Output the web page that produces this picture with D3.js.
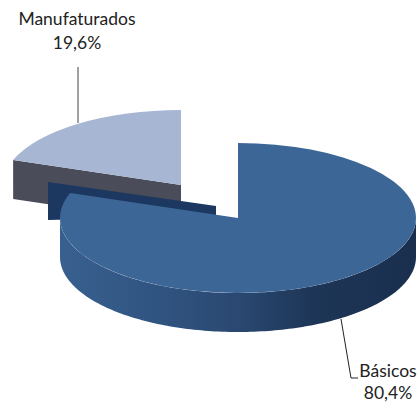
<!DOCTYPE html>
<html><head><meta charset="utf-8">
<style>html,body{margin:0;padding:0;background:#fff}svg{display:block}text{font-family:Lato,"Open Sans",sans-serif;font-size:17.5px;fill:#222}</style>
<script src="https://cdn.jsdelivr.net/npm/d3@7/dist/d3.min.js"></script>
</head><body><svg width="420" height="404"></svg>
<script>
const categories=["Básicos","Manufaturados"];
const values=[80.4,19.6];
const valueLabels=["80,4%","19,6%"];
const topColors=["#3c6696","#a6b6d3"];
const svg=d3.select("svg");
const rx=178,ry=75,depth=39;
const centers=[[238,218],[181,185]];
const arcs=d3.pie().sort(null).value(d=>d)(values);
const arcGen=d3.arc().innerRadius(0).outerRadius(rx);
const yr=ry/rx;
const P=(c,a,dy=0)=>[c[0]+rx*Math.sin(a),c[1]-ry*Math.cos(a)+dy];
const line=d3.line();
const defs=svg.append("defs");
const g=defs.append("linearGradient").attr("id","side").attr("gradientUnits","userSpaceOnUse")
  .attr("x1",centers[0][0]-rx).attr("x2",centers[0][0]+rx).attr("y1",0).attr("y2",0);
[[0,"#38608f"],[.25,"#315582"],[.5,"#2a4871"],[.72,"#1d3556"],[1,"#1a2f4e"]].forEach(s=>g.append("stop").attr("offset",s[0]).attr("stop-color",s[1]));

// Manufaturados
const cm=centers[1],am=arcs[1];
const leftEdge=P(cm,am.startAngle);
svg.append("path").attr("d",line([leftEdge,cm,[cm[0],cm[1]+depth],[leftEdge[0],leftEdge[1]+depth]])).attr("fill","#4a4d59");
svg.append("path").attr("d",arcGen(am)).attr("fill",topColors[1]).attr("transform",`translate(${cm}) scale(1,${yr})`);

// Básicos inner wall, offset in the reference
const c0=centers[0],a0=arcs[0];
const wallA=[48,182],wallB=[216,206];
svg.append("path").attr("d",line([wallA,wallB,[216,216],[48,220]])).attr("fill","#1c3861");
// Básicos outer wall
const angles=d3.range(Math.PI/2,a0.endAngle>3*Math.PI/2?3*Math.PI/2+.001:a0.endAngle,.02);
const front=angles.map(a=>P(c0,a)).concat(angles.slice().reverse().map(a=>P(c0,a,depth)));
svg.append("path").attr("d",line(front)+"Z").attr("fill","url(#side)");
svg.append("path").attr("d",arcGen(a0)).attr("fill",topColors[0]).attr("transform",`translate(${c0}) scale(1,${yr})`);

// leaders
svg.append("path").attr("d",line([[78,67],[78,123]])).attr("fill","none").attr("stroke","#444").attr("stroke-width",1);
svg.append("path").attr("d",line([[341,319],[351,378],[358,378]])).attr("fill","none").attr("stroke","#222").attr("stroke-width",1);
// labels
const labelX=[388,77];
const labelY=[[377,399],[25,49]];
categories.forEach((c,i)=>{
  svg.append("text").attr("x",labelX[i]).attr("y",labelY[i][0]).attr("text-anchor","middle").text(c);
  svg.append("text").attr("x",labelX[i]).attr("y",labelY[i][1]).attr("text-anchor","middle").text(valueLabels[i]);
});
</script></body></html>
